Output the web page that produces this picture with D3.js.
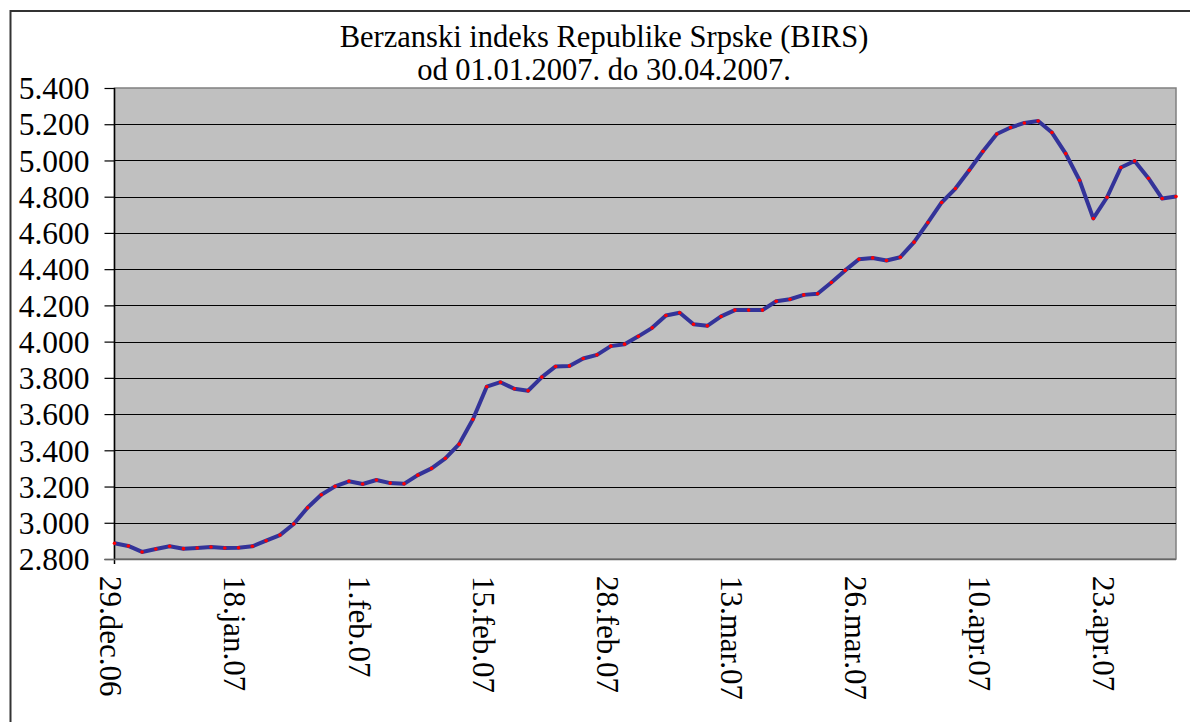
<!DOCTYPE html>
<html>
<head>
<meta charset="utf-8">
<script src="https://cdn.jsdelivr.net/npm/d3@7"></script>
<style>
  html, body { margin: 0; padding: 0; background: #fff; }
  svg { display: block; }
  text { font-family: "Liberation Serif", "Times New Roman", serif; fill: #000; }
</style>
</head>
<body>
<svg id="chart" width="1190" height="722"></svg>
<script>
// ---- data ----
const titleLines = ["Berzanski indeks Republike Srpske (BIRS)", "od 01.01.2007. do 30.04.2007."];
const values = [
  2887, 2872, 2839, 2855, 2870, 2857, 2861, 2866, 2861, 2862,
  2870, 2901, 2932, 2993, 3083, 3155, 3201, 3229, 3214, 3236,
  3219, 3215, 3263, 3300, 3356, 3434, 3571, 3751, 3776, 3740,
  3729, 3804, 3863, 3866, 3907, 3927, 3975, 3986, 4029, 4076,
  4144, 4159, 4096, 4087, 4139, 4174, 4174, 4174, 4223, 4234,
  4258, 4264, 4326, 4393, 4455, 4462, 4448, 4466, 4549, 4657,
  4768, 4845, 4946, 5051, 5146, 5182, 5207, 5218, 5154, 5038,
  4891, 4680, 4797, 4961, 4997, 4902, 4790, 4801
];
const tickLabels = ["29.dec.06", "18.jan.07", "1.feb.07", "15.feb.07", "28.feb.07", "13.mar.07", "26.mar.07", "10.apr.07", "23.apr.07"];
const tickIndex = [0, 9, 18, 27, 36, 45, 54, 63, 72];
const yTicks = [2800, 3000, 3200, 3400, 3600, 3800, 4000, 4200, 4400, 4600, 4800, 5000, 5200, 5400];

// ---- layout ----
const L = 114.5, R = 1176, T = 88, B = 559;
const svg = d3.select("#chart");
const FONT = "'Liberation Serif', 'Times New Roman', serif";

// outer chart border (extends beyond viewport on right/bottom)
svg.append("rect").attr("x", 10.5).attr("y", 11).attr("width", 1300).attr("height", 900)
  .attr("fill", "#fff").attr("stroke", "#333").attr("stroke-width", 2);

const x = d3.scalePoint().domain(d3.range(values.length)).range([L, R]);
const y = d3.scaleLinear().domain([2800, 5400]).range([B, T]);

// plot area
svg.append("rect").attr("x", L).attr("y", T).attr("width", R - L).attr("height", B - T)
  .attr("fill", "#c0c0c0").attr("stroke", "#808080").attr("stroke-width", 1.5);

// gridlines
svg.append("g").selectAll("line").data(yTicks.filter(v => v > 2800 && v < 5400)).join("line")
  .attr("x1", L).attr("x2", R)
  .attr("y1", d => Math.round(y(d)) + 0.5).attr("y2", d => Math.round(y(d)) + 0.5)
  .attr("stroke", "#000").attr("stroke-width", 1.2);

// y axis
const fmt = v => d3.format(",.0f")(v).replace(/,/g, ".");
const yAxis = d3.axisLeft(y).tickValues(yTicks).tickFormat(fmt).tickSize(10).tickSizeOuter(0);
const yg = svg.append("g").attr("transform", `translate(${L},0)`).call(yAxis);
yg.attr("font-family", null).attr("font-size", null);
yg.select(".domain").remove();
yg.selectAll(".tick line").attr("stroke", "#000").attr("stroke-width", 1.2);
yg.selectAll(".tick text").attr("x", -25).attr("dy", "0.34em")
  .style("font-size", "31.5px").style("font-family", FONT).attr("fill", "#000");
svg.append("line").attr("x1", L).attr("x2", L).attr("y1", T).attr("y2", B + 5)
  .attr("stroke", "#000").attr("stroke-width", 1.5);
svg.append("line").attr("x1", L - 10).attr("x2", R).attr("y1", B + 0.5).attr("y2", B + 0.5)
  .attr("stroke", "#666").attr("stroke-width", 1.5);

// x axis labels
const xAxis = d3.axisBottom(x).tickValues(tickIndex).tickFormat((d, i) => tickLabels[i]).tickSize(0);
const xg = svg.append("g").attr("transform", `translate(0,${B})`).call(xAxis);
xg.attr("font-family", null).attr("font-size", null);
xg.select(".domain").remove();
xg.selectAll(".tick text")
  .attr("transform", "rotate(90)")
  .attr("x", 17).attr("y", 0).attr("dy", "0.47em")
  .attr("text-anchor", "start")
  .style("font-size", "31px").style("font-family", FONT).attr("fill", "#000");

// line
const line = d3.line().x((d, i) => x(i)).y(d => y(d));
svg.append("path").datum(values).attr("d", line)
  .attr("fill", "none").attr("stroke", "#333399").attr("stroke-width", 4)
  .attr("stroke-linejoin", "round");
svg.append("g").selectAll("circle").data(values).join("circle")
  .attr("cx", (d, i) => x(i)).attr("cy", d => y(d)).attr("r", 1.8).attr("fill", "#ff0000");

// title
svg.append("text").attr("x", 604).attr("y", 47).attr("text-anchor", "middle")
  .style("font-size", "30.5px").style("font-family", FONT).text(titleLines[0]);
svg.append("text").attr("x", 604).attr("y", 80).attr("text-anchor", "middle")
  .style("font-size", "30.5px").style("font-family", FONT).text(titleLines[1]);
</script>
</body>
</html>
